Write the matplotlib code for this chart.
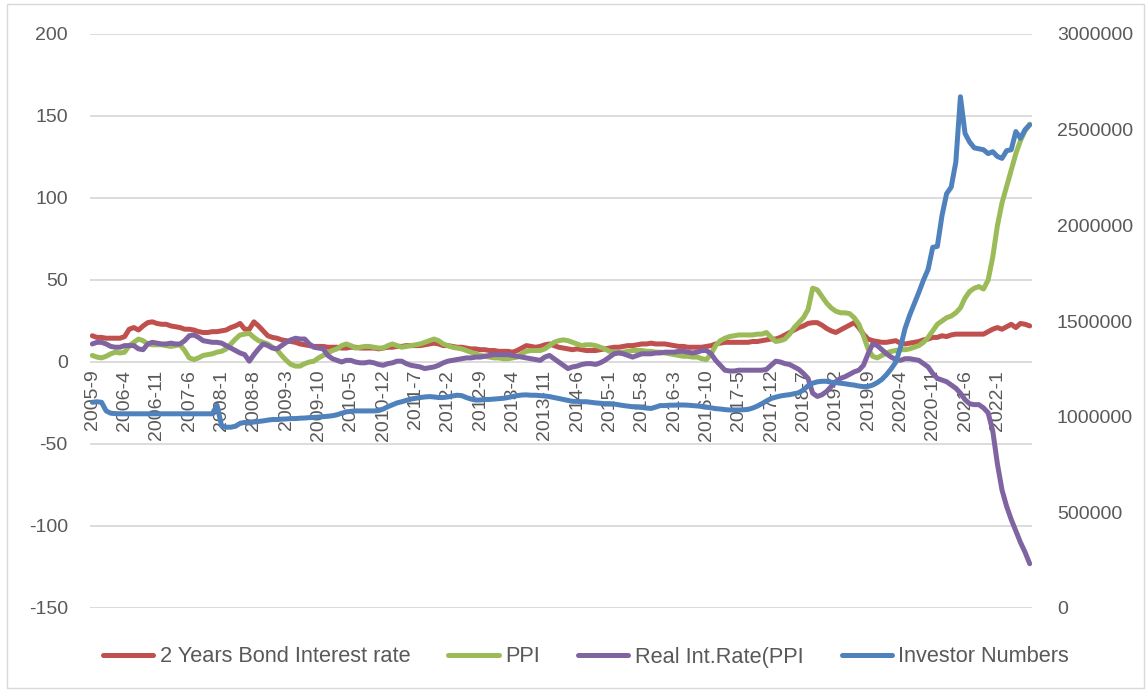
import numpy as np
import matplotlib
matplotlib.use("Agg")
import matplotlib.pyplot as plt
from matplotlib.ticker import MultipleLocator, FuncFormatter
from matplotlib.patches import Rectangle

# ---------------- data (monthly, 2005-9 .. 2022-8) ----------------
bond_rate = [
    16, 15, 15, 14.5, 14.5, 14.5, 14.5, 15.5, 20, 21,
    19.5, 22, 24, 24.5, 23.5, 23, 23, 22, 21.5, 21,
    20, 20, 19.5, 18.5, 18, 18, 18.5, 18.5, 19, 19.5,
    21, 22, 23.5, 20, 20, 24.5, 22, 19, 16, 15,
    14.5, 13.5, 13, 12.5, 12, 11, 10.5, 10, 9.5, 9.5,
    9.5, 9, 9, 9, 8.5, 8.5, 9, 9, 8.5, 8.5,
    8.5, 8.5, 8, 8.5, 9, 9, 9.5, 9.5, 10, 10,
    10, 10, 10.5, 11, 11.5, 11, 10, 10, 9.5, 9,
    9, 8.5, 8, 8, 7.5, 7.5, 7, 7, 6.5, 6.5,
    6.5, 6, 7, 8.5, 10, 9.5, 9, 9.5, 10.5, 11,
    10, 9, 8.5, 8, 7.5, 8, 7.5, 7, 7, 7,
    7.5, 8, 8.5, 9, 9, 9.5, 10, 10, 10.5, 11,
    11, 11.5, 11, 11, 11, 10.5, 10, 9.5, 9.5, 9,
    9, 9, 9, 9.5, 10, 11, 11.5, 12, 12, 12,
    12, 12, 12, 12.5, 12.5, 13, 13.5, 14, 14, 15,
    16.5, 18, 19.5, 21, 22, 23.5, 24, 24, 22.5, 20.5,
    19, 18, 19.5, 21, 22.5, 24, 21, 17, 14, 13,
    12.5, 12, 12, 12.5, 13, 11.5, 11, 11.5, 12, 12.5,
    13.5, 14, 15, 15, 16, 15.5, 16.5, 17, 17, 17,
    17, 17, 17, 17, 18.5, 20, 21, 20, 21.5, 23,
    21, 23.5, 23, 22,
]

ppi = [
    4, 3, 2.5, 3.5, 5, 6, 5.5, 6, 10, 12,
    14, 13, 11, 10.5, 10.5, 10.5, 10, 9.5, 10, 10.5,
    7, 2.5, 1.5, 2.5, 4, 4.5, 5, 6, 6.5, 8,
    11, 14, 16.5, 17, 17.5, 15, 13, 12, 11, 9,
    7.5, 4, 1, -1.5, -2.5, -2.5, -1, 0, 0.5, 2.5,
    4, 5.5, 7, 8, 10, 11, 10, 8.5, 9, 9.5,
    9.5, 9, 8.5, 8.5, 10, 11, 10, 9, 9.5, 10,
    10.5, 11, 12, 13, 14, 13, 11, 10, 9, 8.5,
    8, 7, 6, 5, 4, 3.5, 3, 2.5, 2.5, 2,
    2, 2.5, 3, 5, 6.5, 7, 7, 7, 8, 10,
    12, 13, 13.5, 13, 12, 11, 10, 10.5, 10.5, 10,
    9, 8, 6.5, 6, 6, 6, 6.5, 7, 7, 7,
    6.5, 6.5, 6, 6, 5.5, 5, 4.5, 4, 3.5, 3.5,
    3, 3, 2, 1.5, 5, 10, 13, 14.5, 15.5, 16,
    16.5, 16.5, 16.5, 16.5, 17, 17, 18, 15, 12.5, 13,
    14, 17, 21, 24, 27, 32, 45, 44, 40, 36,
    33, 31, 30, 30, 29.5, 27, 23, 16, 8, 3.5,
    2.5, 4, 5.5, 6.5, 7, 7.5, 7.5, 8, 9, 10,
    12, 15, 19, 23, 25, 27, 28, 30, 33, 39,
    43, 45, 46, 44.5, 50, 64, 83, 97, 107, 117,
    127, 135, 141, 145,
]

real_rate = [
    11, 12, 12, 11, 9.5, 9, 9, 10, 10, 10,
    8, 7.5, 11, 12, 11.5, 11, 11, 11.5, 11, 11,
    13, 16, 16.5, 15, 13, 12.5, 12, 12, 11.5, 10,
    8.5, 7, 5.5, 4.5, 0.5, 4.5, 8, 11, 10, 8.5,
    8, 10, 12, 13.5, 14.5, 14, 14, 11, 9, 8.5,
    8, 4, 2, 1, 0, 1, 1, 0, -0.5, -0.5,
    0, -0.5, -1.5, -2, -1, -0.5, 0.5, 0.5, -1, -2,
    -2.5, -3, -4, -3.5, -3, -2, -0.5, 0.5, 1, 1.5,
    2, 2.5, 2.5, 3, 3, 3.5, 4, 4.5, 4.5, 4.5,
    4.5, 4, 3.5, 3, 2.5, 2, 1.5, 1, 3, 4,
    2, 0, -2, -4, -3, -2.5, -1.5, -1, -1, -1.5,
    -0.5, 1, 3, 5, 5.5, 5, 4, 3, 4, 5,
    5, 5, 5.5, 5.5, 6, 6, 6, 6.5, 6.5, 6,
    5.5, 6, 7, 7, 5, 1, -2, -5, -5.5, -5.5,
    -5, -5, -5, -5, -5, -5, -4.5, -2, 0.5, 0,
    -1, -1.5, -3, -4.5, -7, -10, -19, -21, -20, -18,
    -15, -12, -10, -9, -7.5, -6, -5, -2, 5, 11,
    10, 7.5, 5, 3, 1.5, 1, 2, 2, 1.5, 1,
    -1, -3, -7, -10, -11, -12, -14, -16, -19, -23,
    -25.5, -26, -26, -28, -31, -42, -62, -78, -88, -96,
    -103, -110, -116, -123,
]

investors = [
    1075000, 1078000, 1075000, 1030000, 1018000, 1016000, 1015000, 1015000, 1015000, 1015000,
    1015000, 1015000, 1015000, 1015000, 1015000, 1015000, 1015000, 1015000, 1015000, 1015000,
    1015000, 1015000, 1015000, 1015000, 1015000, 1015000, 1015000, 1060000, 952000, 945000,
    945000, 950000, 965000, 970000, 968000, 972000, 975000, 978000, 982000, 985000,
    985000, 987000, 988000, 990000, 990000, 992000, 993000, 995000, 996000, 998000,
    1000000, 1002000, 1005000, 1010000, 1018000, 1025000, 1028000, 1030000, 1030000, 1030000,
    1030000, 1030000, 1032000, 1040000, 1052000, 1062000, 1072000, 1078000, 1085000, 1092000,
    1096000, 1100000, 1103000, 1105000, 1103000, 1100000, 1100000, 1103000, 1108000, 1112000,
    1110000, 1100000, 1092000, 1087000, 1087000, 1090000, 1090000, 1092000, 1094000, 1096000,
    1100000, 1105000, 1110000, 1113000, 1114000, 1112000, 1112000, 1110000, 1108000, 1105000,
    1100000, 1095000, 1090000, 1085000, 1080000, 1080000, 1078000, 1078000, 1075000, 1072000,
    1070000, 1068000, 1068000, 1066000, 1062000, 1058000, 1055000, 1052000, 1050000, 1048000,
    1045000, 1043000, 1050000, 1058000, 1058000, 1060000, 1060000, 1061000, 1061000, 1060000,
    1058000, 1056000, 1054000, 1050000, 1046000, 1042000, 1040000, 1037000, 1035000, 1035000,
    1035000, 1036000, 1038000, 1045000, 1055000, 1068000, 1082000, 1095000, 1102000, 1108000,
    1112000, 1115000, 1120000, 1125000, 1140000, 1162000, 1175000, 1182000, 1185000, 1185000,
    1180000, 1178000, 1175000, 1172000, 1168000, 1165000, 1160000, 1157000, 1158000, 1165000,
    1178000, 1195000, 1220000, 1250000, 1285000, 1360000, 1460000, 1530000, 1590000, 1650000,
    1714000, 1770000, 1885000, 1890000, 2050000, 2165000, 2200000, 2330000, 2672000, 2480000,
    2435000, 2405000, 2400000, 2395000, 2375000, 2385000, 2360000, 2350000, 2390000, 2395000,
    2490000, 2455000, 2500000, 2525000,
]

tick_labels = [
    "2005-9", "2006-4", "2006-11", "2007-6", "2008-1", "2008-8", "2009-3",
    "2009-10", "2010-5", "2010-12", "2011-7", "2012-2", "2012-9", "2013-4",
    "2013-11", "2014-6", "2015-1", "2015-8", "2016-3", "2016-10", "2017-5",
    "2017-12", "2018-7", "2019-2", "2019-9", "2020-4", "2020-11", "2021-6",
    "2022-1",
]
tick_step = 7

series_names = ["2 Years Bond Interest rate", "PPI", "Real Int.Rate(PPI", "Investor Numbers"]
colors = ["#c0504d", "#9bbb59", "#8064a2", "#4f81bd"]

# ---------------- plotting ----------------
plt.rcParams["font.family"] = ["Liberation Sans", "DejaVu Sans"]
plt.rcParams["axes.unicode_minus"] = False
TXT = "#595959"
GRID = "#d9d9d9"

W, H = 1148, 691
fig = plt.figure(figsize=(W / 100, H / 100), dpi=100)
ax = fig.add_axes([90 / W, 1 - 608 / H, 942 / W, 574 / H])
ax2 = ax.twinx()

x = np.arange(len(bond_rate))
lw = 3.6
style = dict(lw=lw, solid_joinstyle="round", solid_capstyle="round")
l1, = ax.plot(x, bond_rate, color=colors[0], zorder=3, **style)
l2, = ax.plot(x, ppi, color=colors[1], zorder=4, **style)
l3, = ax.plot(x, real_rate, color=colors[2], zorder=5, **style)
l4, = ax2.plot(x, investors, color=colors[3], zorder=3, **style)

ax.set_xlim(-0.5, len(bond_rate) - 0.5)
ax.set_ylim(-150, 200)
ax.yaxis.set_major_locator(MultipleLocator(50))
ax.yaxis.set_major_formatter(FuncFormatter(lambda v, p: f"{int(round(v))}"))
ax2.set_ylim(0, 3000000)
ax2.yaxis.set_major_locator(MultipleLocator(500000))
ax2.yaxis.set_major_formatter(FuncFormatter(lambda v, p: f"{int(round(v))}"))

ax.grid(axis="y", color=GRID, lw=1.3, zorder=0)
ax.set_axisbelow(True)
for a in (ax, ax2):
    for s in a.spines.values():
        s.set_visible(False)

ax.spines["bottom"].set_position(("data", 0))
ticks = np.arange(0, len(bond_rate), tick_step)[: len(tick_labels)]
ax.set_xticks(ticks)
ax.set_xticklabels(tick_labels, rotation=90, fontsize=14, color=TXT)
ax.tick_params(axis="x", length=0, pad=5.5)
ax.tick_params(axis="y", length=0, pad=16, labelsize=14, labelcolor=TXT)
ax2.tick_params(axis="y", length=0, pad=18, labelsize=14, labelcolor=TXT)

leg = fig.legend([l1, l2, l3, l4], series_names, loc="center",
                 bbox_to_anchor=(586 / W, 1 - 657 / H), ncol=4, frameon=False,
                 fontsize=15.7, handlelength=2.3, handletextpad=0.3,
                 columnspacing=1.75)
for t in leg.get_texts():
    t.set_color(TXT)

fig.add_artist(Rectangle((7 / W, 3 / H), 1137 / W, 684 / H, transform=fig.transFigure,
                         fill=False, edgecolor=GRID, lw=1))

fig.savefig("out.png", dpi=100)
